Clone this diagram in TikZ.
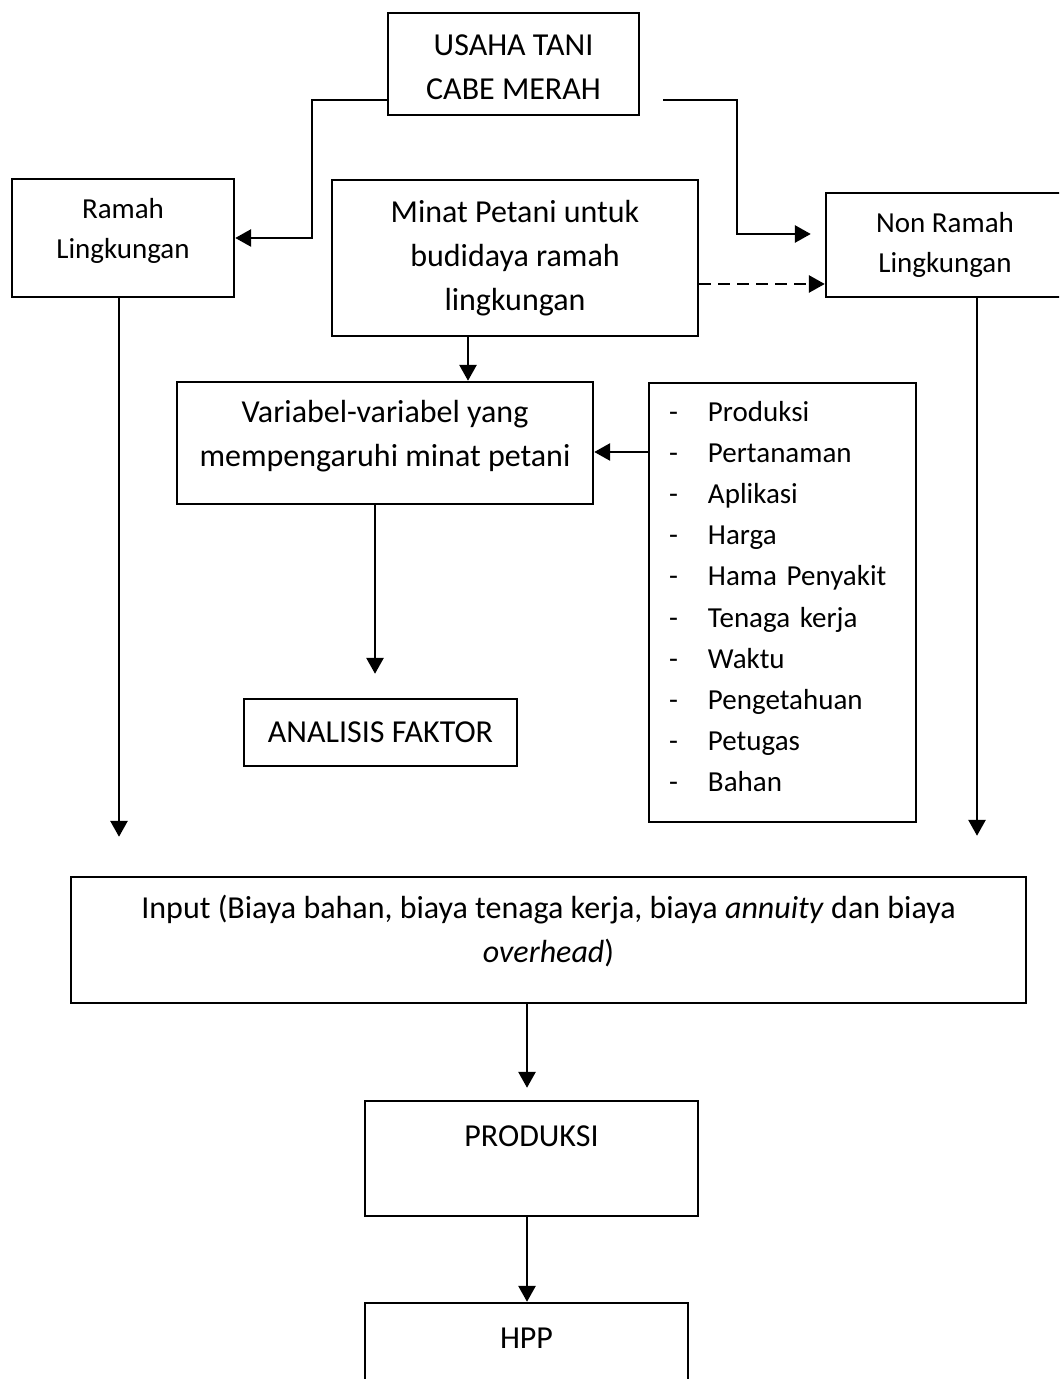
\documentclass[tikz,border=0pt]{standalone}
\usepackage{fontspec}
\setmainfont{Carlito}
\usepackage{tikz}
\usetikzlibrary{arrows.meta,calc}
\newcommand{\boxfont}{\fontsize{16}{22}\selectfont}
\newcommand{\smallfont}{\fontsize{14.5}{20}\selectfont}
\newcommand{\listfont}{\fontsize{14.5}{20.6}\selectfont}
\newcommand{\sink}[1]{\rule[-#1]{0pt}{#1}}
\newcommand{\rise}[1]{\rule{0pt}{#1}}
\newcommand{\fitem}[1]{\makebox[19.5pt][l]{-}\mbox{#1}}
\tikzstyle{arrow} = [line width=1.4pt, -{Triangle[length=8pt,width=8.5pt]}]
\tikzstyle{block} = [rectangle, draw, line width=1.2pt, align=center, inner sep=0pt, font=\boxfont]
\tikzstyle{small} = [font=\smallfont]

\begin{document}
\begin{tikzpicture}[x=0.5pt, y=-0.5pt]
				\useasboundingbox (0,0) rectangle (1059,1379);
				\clip (0,0) rectangle (1059,1379);
				% Place nodes
				\node (usaha) [block, minimum width=125.5pt, minimum height=51pt] at (513.5,64) {\rise{14.1pt}USAHA TANI\\CABE MERAH};
				\node (ramah) [block, small, minimum width=111pt, minimum height=59pt] at (123,238) {Ramah\\Lingkungan\sink{9.5pt}};
				\node (minat) [block, minimum width=183pt, minimum height=78pt] at (515,258) {Minat Petani untuk\\budidaya ramah\\lingkungan};
				\node (nonramah) [block, small, minimum width=119pt, minimum height=52pt] at (945,245) {Non Ramah\\Lingkungan};
				\node (variabel) [block, minimum width=208pt, minimum height=61pt] at (385,443) {Variabel-variabel yang\\mempengaruhi minat petani\sink{9.7pt}};
				\node (faktor) [block, font=\listfont, align=left, text width=113.5pt, inner xsep=10pt, minimum height=219.5pt] at (782.5,602.5)
					{\fitem{Produksi}\\
					 \fitem{Pertanaman}\\
					 \fitem{Aplikasi}\\
					 \fitem{Harga}\\
					 \fitem{Hama Penyakit}\\
					 \fitem{Tenaga kerja}\\
					 \fitem{Waktu}\\
					 \fitem{Pengetahuan}\\
					 \fitem{Petugas}\\
					 \fitem{Bahan}\sink{6pt}};
				\node (analisis) [block, minimum width=136.5pt, minimum height=33.5pt] at (380.5,732.5) {ANALISIS FAKTOR};
				\node (input) [block, minimum width=477.5pt, minimum height=63pt] at (548.5,940) {Input (Biaya bahan, biaya tenaga kerja, biaya \textit{annuity} dan biaya\\\textit{overhead})\sink{11.3pt}};
				\node (produksi) [block, minimum width=166.5pt, minimum height=57.5pt] at (531.5,1158.5) {PRODUKSI\\\mbox{}};
				\node (hpp) [block, minimum width=161.5pt, minimum height=57.5pt] at (526.5,1360.5) {HPP\\\mbox{}};

				% Draw arrows
				\draw [arrow] (usaha.west |- 0,100) -| (312,238) -- (ramah.east);
				\draw [arrow] (usaha.east |- 0,100) ++(23,0) -| (737,234) -- ($(nonramah.west |- 0,234)+(-14,0)$);
				\draw [arrow, dashed, dash pattern=on 6pt off 3.5pt] (minat.east |- 0,284) -- (nonramah.west |- 0,284);
				\draw [arrow] (minat.south -| 468,0) -- (variabel.north -| 468,0);
				\draw [arrow] (faktor.west |- 0,452) -- (variabel.east |- 0,452);
				\draw [arrow] (variabel.south -| 375,0) -- ($(analisis.north -| 375,0)+(0,-24)$);
				\draw [arrow] (ramah.south -| 119,0) -- ($(input.north -| 119,0)+(0,-39)$);
				\draw [arrow] (nonramah.south -| 977,0) -- ($(input.north -| 977,0)+(0,-40)$);
				\draw [arrow] (input.south -| 527,0) -- ($(produksi.north -| 527,0)+(0,-12)$);
				\draw [arrow] (produksi.south -| 527,0) -- (hpp.north -| 527,0);

			\end{tikzpicture}
\end{document}
